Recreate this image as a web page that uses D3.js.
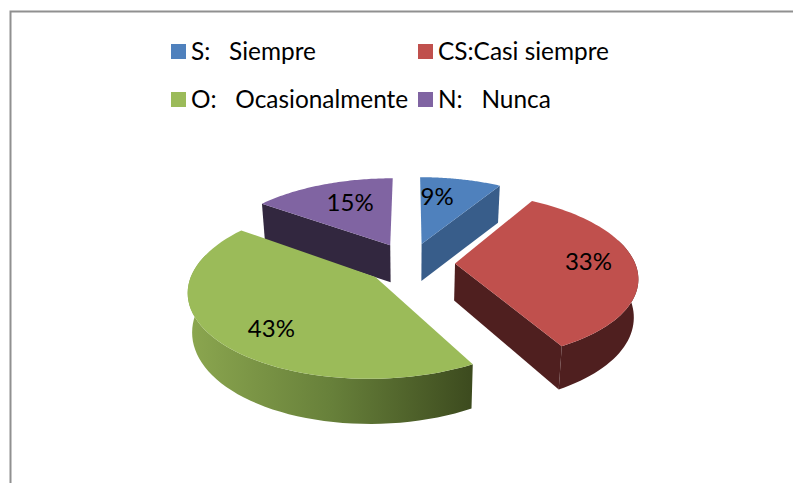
<!DOCTYPE html>
<html>
<head>
<meta charset="utf-8">
<script src="https://cdn.jsdelivr.net/npm/d3@7"></script>
<style>
	html, body { margin: 0; padding: 0; background: #fff; }
	svg { display: block; }
	text { font-family: Lato, "Open Sans", sans-serif; fill: #000; }
</style>
</head>
<body>
<div id="chart"></div>
<script>
const categories = ["S:   Siempre", "CS:Casi siempre", "O:   Ocasionalmente", "N:   Nunca"];
const percents = [8.6, 33.4, 43, 15];
const topColors = ["#4f81bd", "#c0504d", "#9bbb59", "#8064a2"];
const sideColors = ["#385d8a", "#4f1f1f", "#6f8a3d", "#32273f"];

const WIDTH = 793;
const HEIGHT = 483;

// pie geometry: ground plane seen at a tilt with a little perspective
const CX = 410;
const CY = 263;
const RADIUS = 180;			// horizontal radius
const TILT = 82;			// vertical radius
const PERSP = 0.15;			// perspective strength
const EXPLODE = 0.25;		// slice offset, in radii
const DEPTH = 37;			// height of the pie side
const LABEL_POS = 0.7;		// label distance from apex, in radii
const LABEL_NUDGE = [[-13, 0], [7, -2], [3, 9], [9, 2]];	// best-fit shift per label

var svg = d3.select("#chart").append("svg")
	.attr("width", WIDTH)
	.attr("height", HEIGHT);

// frame
svg.append("path")
	.attr("d", "M10.5,483V11.5H793")
	.attr("fill", "none")
	.attr("stroke", "#909090")
	.attr("stroke-width", 2);

// side gradient for the big slice
var grad = svg.append("defs").append("linearGradient")
	.attr("id", "greenSide")
	.attr("gradientUnits", "userSpaceOnUse")
	.attr("x1", 190).attr("x2", 474)
	.attr("y1", 0).attr("y2", 0);
grad.append("stop").attr("offset", 0).attr("stop-color", "#8ba64f");
grad.append("stop").attr("offset", 0.5).attr("stop-color", "#67803a");
grad.append("stop").attr("offset", 1).attr("stop-color", "#3c4a1e");

// ground point (u right, v toward viewer, h down the side) --> screen
function project(u, v, h) {
	var k = 1 / (1 - PERSP * v);
	return [
		CX + RADIUS * u * k * (1 - 0.02 * h),
		CY + TILT * v * k + h * (DEPTH + 7 * Math.max(v, 0))
	];
}

var pie = d3.pie().sort(null).value(function(d) { return d; });
var arcs = pie(percents);

var line = d3.line();

function apex(d) {
	var mid = (d.startAngle + d.endAngle) / 2;
	return [EXPLODE * Math.sin(mid), -EXPLODE * Math.cos(mid)];
}

function rimPoint(d, a, r) {
	var o = apex(d);
	return [o[0] + r * Math.sin(a), o[1] - r * Math.cos(a)];
}

function rimAngles(d) {
	return d3.range(0, 61).map(function(i) {
		return d.startAngle + (d.endAngle - d.startAngle) * i / 60;
	});
}

function wallPath(d, a) {
	var o = apex(d), p = rimPoint(d, a, 1);
	return line([project(o[0], o[1], 0), project(p[0], p[1], 0), project(p[0], p[1], 1), project(o[0], o[1], 1)]) + "Z";
}

// front part of the rim only, the back part is never seen
function frontAngles(d) {
	return rimAngles(d).filter(function(a) { return Math.cos(a) < 0.3; });
}

function rimPath(d) {
	var as = frontAngles(d);
	var upper = as.map(function(a) { var p = rimPoint(d, a, 1); return project(p[0], p[1], 0); });
	var lower = as.slice().reverse().map(function(a) { var p = rimPoint(d, a, 1); return project(p[0], p[1], 1); });
	return line(upper.concat(lower)) + "Z";
}

function topPath(d) {
	var o = apex(d);
	var pts = rimAngles(d).map(function(a) { var p = rimPoint(d, a, 1); return project(p[0], p[1], 0); });
	return line([project(o[0], o[1], 0)].concat(pts)) + "Z";
}

// back to front
var order = [3, 0, 1, 2];
var slices = svg.selectAll(".slice")
	.data(order.map(function(i) { return arcs[i]; }))
  .enter().append("g")
	.attr("class", "slice");

function sideFill(d) {
	return d.index == 2 ? "url(#greenSide)" : sideColors[d.index];
}

// only the walls that face the viewer
slices.filter(function(d) { return Math.sin(d.startAngle) < -0.01; }).append("path")
	.attr("d", function(d) { return wallPath(d, d.startAngle); })
	.attr("fill", function(d) { return sideColors[d.index]; });
slices.filter(function(d) { return Math.sin(d.endAngle) > 0.01; }).append("path")
	.attr("d", function(d) { return wallPath(d, d.endAngle); })
	.attr("fill", function(d) { return sideColors[d.index]; });
slices.filter(function(d) { return frontAngles(d).length > 1; }).append("path")
	.attr("d", rimPath)
	.attr("fill", sideFill);
slices.append("path")
	.attr("d", topPath)
	.attr("fill", function(d) { return topColors[d.index]; });

// percent labels
function labelPoint(d) {
	var mid = (d.startAngle + d.endAngle) / 2;
	var p = rimPoint(d, mid, LABEL_POS);
	return project(p[0], p[1], 0);
}

slices.append("text")
	.attr("text-anchor", "middle")
	.attr("font-size", 24)
	.attr("x", function(d) { return labelPoint(d)[0] + LABEL_NUDGE[d.index][0]; })
	.attr("y", function(d) { return labelPoint(d)[1] + 8 + LABEL_NUDGE[d.index][1]; })
	.text(function(d) { return Math.round(d.data) + "%"; });

// legend, two rows of two
var legendX = d3.scaleOrdinal().domain([0, 1]).range([171, 418]);
var legendY = d3.scaleOrdinal().domain([0, 1]).range([44, 92]);

var legend = svg.selectAll(".legend")
	.data(categories)
  .enter().append("g")
	.attr("class", "legend")
	.attr("transform", function(d, i) {
		return "translate(" + legendX(i % 2) + "," + legendY(Math.floor(i / 2)) + ")";
	});

legend.append("rect")
	.attr("width", 15)
	.attr("height", 15)
	.attr("fill", function(d, i) { return topColors[i]; });

legend.append("text")
	.attr("x", 20)
	.attr("y", 16)
	.attr("font-size", 24.4)
	.attr("xml:space", "preserve")
	.style("white-space", "pre")
	.text(function(d) { return d; });
</script>
</body>
</html>
